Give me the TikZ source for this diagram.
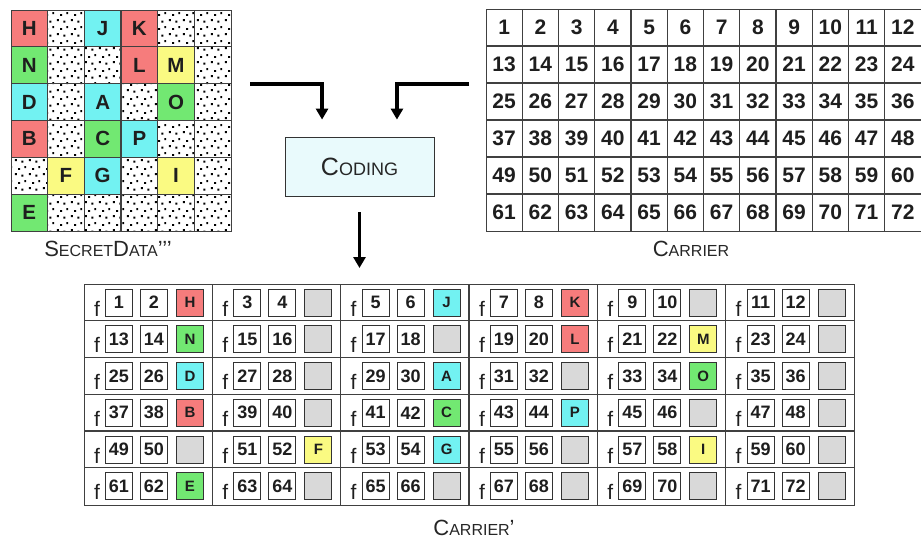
\documentclass[tikz,border=0pt]{standalone}
\usepackage{fontspec}
\setmainfont{Liberation Sans}
\usetikzlibrary{arrows.meta,calc,patterns}

% sparse stipple used for the empty cells of the secret grid
\pgfdeclarepatternformonly{stipple}{\pgfpoint{0pt}{0pt}}{\pgfpoint{14pt}{14pt}}{\pgfpoint{14pt}{14pt}}{%
  \pgfpathrectangle{\pgfpoint{1pt}{2pt}}{\pgfpoint{2pt}{2pt}}%
  \pgfpathrectangle{\pgfpoint{8pt}{0.5pt}}{\pgfpoint{2pt}{2pt}}%
  \pgfpathrectangle{\pgfpoint{4.5pt}{7.5pt}}{\pgfpoint{2pt}{2pt}}%
  \pgfpathrectangle{\pgfpoint{11pt}{9.5pt}}{\pgfpoint{2pt}{2pt}}%
  \pgfusepath{fill}}

\definecolor{cr}{HTML}{F67C7C}
\definecolor{cg}{HTML}{72E872}
\definecolor{cc}{HTML}{72F2F2}
\definecolor{cy}{HTML}{FAFA82}
\definecolor{slotgray}{HTML}{D9D9D9}
\definecolor{codefill}{HTML}{E9FAFC}
\definecolor{ink}{HTML}{1E1E1E}

\newcommand\fsz[1]{\fontsize{#1}{#1}\selectfont}

\tikzset{
  gridline/.style={draw=black!75, line width=1.3pt},
  letter/.style={font=\bfseries\fsz{20.5}, text=ink, inner sep=0pt},
  cnum/.style={font=\bfseries\fsz{21}, text=ink, inner sep=0pt},
  numbox/.style={draw=black!80, line width=0.9pt, fill=white, minimum width=27pt,
    minimum height=27pt, inner sep=0pt, font=\bfseries\fsz{18}, text=ink},
  slot/.style={numbox, fill=slotgray},
  fchar/.style={font=\fsz{21}, text=ink, inner sep=0pt},
  flow/.style={line width=3.5pt, -{Triangle[width=12pt,length=11pt]}},
  caption/.style={text=black!85, inner sep=0pt},
}

\begin{document}
\begin{tikzpicture}[x=1pt, y=-1pt]
\useasboundingbox (0,0) rectangle (921,541);

% ---------------- secret data grid ----------------
\fill[pattern=stipple] (11,10) rectangle (231,231);
\foreach \c/\r/\t/\col in {1/1/H/cr,3/1/J/cc,4/1/K/cr,1/2/N/cg,4/2/L/cr,5/2/M/cy,
  1/3/D/cc,3/3/A/cc,5/3/O/cg,1/4/B/cr,3/4/C/cg,4/4/P/cc,2/5/F/cy,3/5/G/cc,5/5/I/cy,1/6/E/cg}{
  \fill[\col] ({11+36.67*(\c-1)},{10+36.83*(\r-1)}) rectangle ++(36.67,36.83);
  \node[letter] (s\t) at ({11+36.67*(\c-0.5)},{10+36.83*(\r-0.5)}) {\t};
}
\foreach \i in {1,...,5}{
  \draw[gridline] ({11+36.67*\i},10) -- ({11+36.67*\i},231);
  \draw[gridline] (11,{10+36.83*\i}) -- (231,{10+36.83*\i});
}
\node[gridline, fill=none, minimum width=220pt, minimum height=221pt, inner sep=0pt,
  anchor=north west] (sgrid) at (11,10) {};
\node[caption] (sdlabel) at (108,249)
  {{\fsz{22}S}{\fsz{16}ECRET}{\fsz{22}D}{\fsz{16}ATA}{\fsz{22}’’’}};

% ---------------- carrier grid ----------------
\foreach \r in {1,...,6}{
  \foreach \c in {1,...,12}{
    \pgfmathtruncatemacro\n{(\r-1)*12+\c}
    \node[cnum] (c\n) at ({486+36.25*(\c-0.5)},{9+37*(\r-0.5)}) {\n};
  }
}
\foreach \i in {1,...,11}{
  \draw[gridline] ({486+36.25*\i},9) -- ({486+36.25*\i},231);
}
\foreach \i in {1,...,5}{
  \draw[gridline] (486,{9+37*\i}) -- (921.5,{9+37*\i});
}
\node[gridline, minimum width=435.5pt, minimum height=222pt, inner sep=0pt,
  anchor=north west] (carrier) at (486,9) {};
\node[caption] (carlabel) at (691,249) {{\fsz{22}C}{\fsz{16}ARRIER}};

% ---------------- coding block and flow ----------------
\node[draw=black!80, fill=codefill, line width=0.8pt, minimum width=149pt,
  minimum height=59pt, inner sep=0pt] (coding) at (359.5,166.5)
  {\color{black!85}{\fsz{25}C}{\fsz{18}ODING}};
\coordinate (lvl) at (0,84);
\path ($(coding.north west)!.25!(coding.north east)$) coordinate (codA)
      ($(coding.north west)!.75!(coding.north east)$) coordinate (codB);
\draw[flow, shorten <=18pt, shorten >=17pt] (sgrid.east |- lvl) -| (codA);
\draw[flow, shorten <=17pt, shorten >=17pt] (carrier.west |- lvl) -| (codB);

% ---------------- stego carrier grid ----------------
\node[gridline, minimum width=770pt, minimum height=220.5pt, inner sep=0pt,
  anchor=north west] (stego) at (84,284) {};
\draw[flow, shorten <=16pt, shorten >=16pt] (coding.south) -- (coding.south |- stego.north);
\foreach \r in {1,...,6}{
  \foreach \c in {1,...,6}{
    \pgfmathsetmacro\xo{84+128.33*(\c-1)}
    \pgfmathsetmacro\yo{284+36.75*(\r-1)}
    \pgfmathtruncatemacro\na{(\r-1)*12+2*\c-1}
    \pgfmathtruncatemacro\nb{\na+1}
    \node[fchar, anchor=base] (f\na) at (\xo+13,\yo+32) {f};
    \node[numbox] (b\na) at (\xo+35,\yo+18.5) {\na};
    \node[numbox] (b\nb) at (\xo+70,\yo+18.5) {\nb};
    \node[slot] (k\r-\c) at (\xo+106,\yo+18.5) {};
  }
}
\foreach \c/\r/\t/\col in {1/1/H/cr,3/1/J/cc,4/1/K/cr,1/2/N/cg,4/2/L/cr,5/2/M/cy,
  1/3/D/cc,3/3/A/cc,5/3/O/cg,1/4/B/cr,3/4/C/cg,4/4/P/cc,2/5/F/cy,3/5/G/cc,5/5/I/cy,1/6/E/cg}{
  \node[numbox, fill=\col, font=\bfseries\fsz{15}] (e\t) at (k\r-\c) {\t};
}
\foreach \i in {1,...,5}{
  \draw[gridline] ({84+128.33*\i},284) -- ({84+128.33*\i},504.5);
  \draw[gridline] (84,{284+36.75*\i}) -- (854,{284+36.75*\i});
}
\node[caption] (stlabel) at (474,528) {{\fsz{22}C}{\fsz{16}ARRIER}{\fsz{22}’}};
\end{tikzpicture}
\end{document}
